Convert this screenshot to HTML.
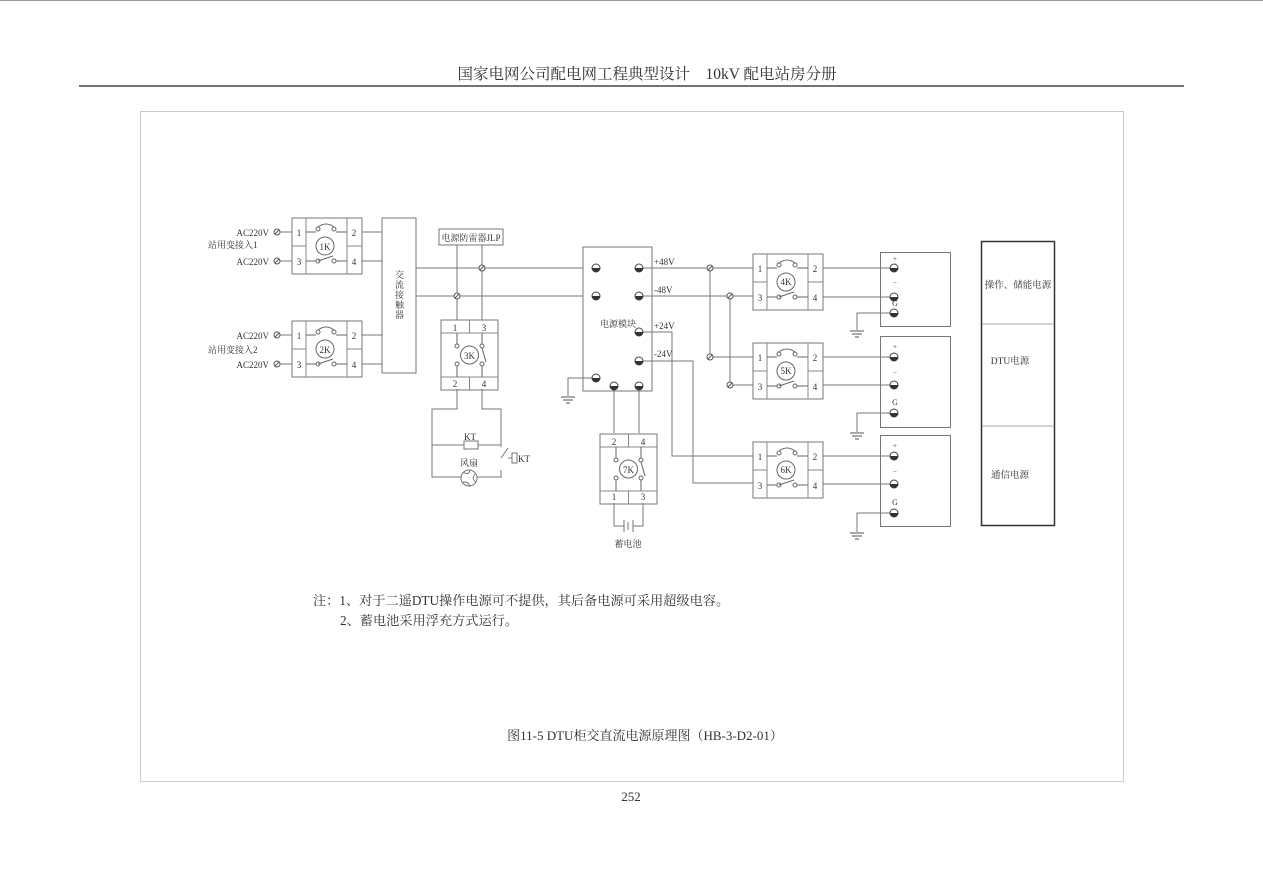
<!DOCTYPE html>
<html><head><meta charset="utf-8"><style>
html,body{margin:0;padding:0;background:#fff;}
svg{display:block;}
text{font-family:"Liberation Serif","Noto Serif CJK SC","Noto Sans CJK SC",serif;fill:#333;}
</style></head><body>
<svg width="1263" height="892" viewBox="0 0 1263 892" xmlns="http://www.w3.org/2000/svg">
<defs>
<g id="sw">
 <rect x="0" y="0" width="70" height="56" fill="none" stroke="#777" stroke-width="1"/>
 <line x1="14" y1="0" x2="14" y2="56" stroke="#888"/>
 <line x1="55" y1="0" x2="55" y2="56" stroke="#888"/>
 <line x1="0" y1="28" x2="14" y2="28" stroke="#888"/>
 <line x1="55" y1="28" x2="70" y2="28" stroke="#888"/>
 <text x="7" y="18" font-size="9" text-anchor="middle">1</text>
 <text x="7" y="47" font-size="9" text-anchor="middle">3</text>
 <text x="62" y="18" font-size="9" text-anchor="middle">2</text>
 <text x="62" y="47" font-size="9" text-anchor="middle">4</text>
 <path d="M14 14H24M44 14H55M14 43H24M44 43H55" stroke="#666" fill="none"/>
 <circle cx="26" cy="11" r="2" fill="none" stroke="#666"/><circle cx="42" cy="11" r="2" fill="none" stroke="#666"/>
 <path d="M26 9Q34 3 42 9" fill="none" stroke="#666"/>
 <circle cx="26" cy="43" r="2" fill="none" stroke="#666"/><circle cx="42" cy="43" r="2" fill="none" stroke="#666"/>
 <line x1="26" y1="43" x2="41" y2="38" stroke="#666"/>
 <circle cx="33" cy="28" r="9" fill="#fff" stroke="#666"/>
</g>
<g id="vs">
 <rect x="0" y="0" width="57" height="70" fill="none" stroke="#777"/>
 <line x1="0" y1="13" x2="57" y2="13" stroke="#888"/>
 <line x1="0" y1="57" x2="57" y2="57" stroke="#888"/>
 <line x1="28.5" y1="0" x2="28.5" y2="13" stroke="#888"/>
 <line x1="28.5" y1="57" x2="28.5" y2="70" stroke="#888"/>
 <circle cx="16" cy="26" r="2" fill="none" stroke="#666"/><circle cx="16" cy="44" r="2" fill="none" stroke="#666"/>
 <circle cx="41" cy="26" r="2" fill="none" stroke="#666"/><circle cx="41" cy="44" r="2" fill="none" stroke="#666"/>
 <line x1="16" y1="13" x2="16" y2="24" stroke="#666"/><line x1="16" y1="46" x2="16" y2="57" stroke="#666"/>
 <line x1="41" y1="13" x2="41" y2="24" stroke="#666"/><line x1="41" y1="46" x2="41" y2="57" stroke="#666"/>
 <line x1="41" y1="28" x2="45" y2="42" stroke="#666"/>
 <circle cx="28.5" cy="35" r="9" fill="#fff" stroke="#666"/>
</g>
<g id="tm"><circle r="4" fill="#fff" stroke="#444"/><path d="M-4 0A4 4 0 0 0 4 0Z" fill="#333"/></g>
<g id="gnd"><path d="M-7 0H7M-5 3H5M-2 6H2" stroke="#555"/></g>
<g id="cs"><circle r="3" fill="#fff" stroke="#555"/><line x1="-2" y1="2" x2="2" y2="-2" stroke="#555"/></g>
</defs>

<line x1="0" y1="0.5" x2="1263" y2="0.5" stroke="#999"/>
<text x="647" y="79" font-size="15.5" text-anchor="middle" fill="#222">国家电网公司配电网工程典型设计　10kV 配电站房分册</text>
<line x1="79" y1="86" x2="1184" y2="86" stroke="#222" stroke-width="1.2"/>
<rect x="140.5" y="111.5" width="983" height="670" fill="none" stroke="#ccc"/>

<g stroke="#777" fill="none" stroke-width="1">
 <path d="M280 232H292M280 261H292M280 335H292M280 364H292"/>
 <path d="M362 232H382M362 261H382M362 335H382M362 364H382"/>
 <rect x="382" y="218" width="34" height="155"/>
 <path d="M416 268H583M416 296H583"/>
 <rect x="439" y="229" width="64" height="16"/>
 <path d="M457 245V320M482 245V320"/>
 <path d="M457 389V409H432V477H461M482 389V409H501V447M432 445H464M478 445H501M501 470V477H477"/>
 <line x1="501" y1="458" x2="508" y2="448"/>
 <path d="M508 458H512"/><rect x="512" y="453" width="5" height="10"/>
 <rect x="464" y="441" width="14" height="8"/>
 <circle cx="469" cy="478" r="8"/>
 <rect x="583" y="247" width="69" height="144"/>
 <path d="M596 378H568V396M639 268H753M639 296H753M710 268V357H753M730 296V385H753"/>
 <path d="M639 332H672V456H753M639 361H693V483H753"/>
 <path d="M614 386V433M639 386V433"/>
 <path d="M614 503V526H624M643 503V526H633M624 520V532M628 522V530M633 520V532"/>
 <path d="M823 268H894M823 297H894M823 357H894M823 385H894M823 456H894M823 484H894"/>
 <path d="M894 313H857V330M894 413H857V432M894 513H857V532"/>
 <rect x="880.5" y="252.5" width="70" height="74"/>
 <rect x="880.5" y="336.5" width="70" height="91"/>
 <rect x="880.5" y="435.5" width="70" height="91"/>
</g>
<path d="M463 472Q469 476 470 470M475 474Q471 479 476 482M470 486Q467 480 462 483" stroke="#777" fill="none"/>
<use href="#gnd" x="568" y="397"/><use href="#gnd" x="857" y="331"/><use href="#gnd" x="857" y="433"/><use href="#gnd" x="857" y="533"/>

<rect x="981.5" y="241.5" width="73" height="284" fill="none" stroke="#333" stroke-width="1.5"/>
<path d="M982 324H1054M982 426H1054" stroke="#aaa"/>
<text x="1018" y="288" font-size="9.5" text-anchor="middle">操作、储能电源</text>
<text x="1010" y="364" font-size="9.5" text-anchor="middle">DTU电源</text>
<text x="1010" y="478" font-size="9.5" text-anchor="middle">通信电源</text>

<use href="#sw" x="292" y="218"/><use href="#sw" x="292" y="321"/>
<use href="#sw" x="753" y="254"/><use href="#sw" x="753" y="343"/><use href="#sw" x="753" y="442"/>
<use href="#vs" x="441" y="320"/><use href="#vs" x="600" y="434"/>

<use href="#cs" x="277" y="232"/><use href="#cs" x="277" y="261"/><use href="#cs" x="277" y="335"/><use href="#cs" x="277" y="364"/>
<use href="#cs" x="482" y="268"/><use href="#cs" x="457" y="296"/>
<use href="#cs" x="710" y="268"/><use href="#cs" x="730" y="296"/><use href="#cs" x="710" y="357"/><use href="#cs" x="730" y="385"/>

<use href="#tm" x="596" y="268"/><use href="#tm" x="639" y="268"/><use href="#tm" x="596" y="296"/><use href="#tm" x="639" y="296"/>
<use href="#tm" x="639" y="332"/><use href="#tm" x="639" y="361"/><use href="#tm" x="596" y="378"/><use href="#tm" x="614" y="386"/><use href="#tm" x="639" y="386"/>
<use href="#tm" x="894" y="268"/><use href="#tm" x="894" y="297"/><use href="#tm" x="894" y="313"/>
<use href="#tm" x="894" y="357"/><use href="#tm" x="894" y="385"/><use href="#tm" x="894" y="413"/>
<use href="#tm" x="894" y="456"/><use href="#tm" x="894" y="484"/><use href="#tm" x="894" y="513"/>

<g font-size="9">
<text x="269" y="236" text-anchor="end">AC220V</text>
<text x="208" y="248">站用变接入1</text>
<text x="269" y="265" text-anchor="end">AC220V</text>
<text x="269" y="339" text-anchor="end">AC220V</text>
<text x="208" y="353">站用变接入2</text>
<text x="269" y="368" text-anchor="end">AC220V</text>
<text x="325" y="250" text-anchor="middle">1K</text>
<text x="325" y="353" text-anchor="middle">2K</text>
<text x="786" y="285" text-anchor="middle">4K</text>
<text x="786" y="374" text-anchor="middle">5K</text>
<text x="786" y="473" text-anchor="middle">6K</text>
<text x="469.5" y="359" text-anchor="middle">3K</text>
<text x="628.5" y="473" text-anchor="middle">7K</text>
<text x="455" y="331" text-anchor="middle">1</text><text x="484" y="331" text-anchor="middle">3</text>
<text x="455" y="387" text-anchor="middle">2</text><text x="484" y="387" text-anchor="middle">4</text>
<text x="614" y="445" text-anchor="middle">2</text><text x="643" y="445" text-anchor="middle">4</text>
<text x="614" y="500" text-anchor="middle">1</text><text x="643" y="500" text-anchor="middle">3</text>
<text x="470" y="440" text-anchor="middle">KT</text>
<text x="469" y="466" text-anchor="middle">风扇</text>
<text x="518" y="462">KT</text>
<text x="471" y="241" text-anchor="middle">电源防雷器JLP</text>
<text x="618" y="327" text-anchor="middle">电源模块</text>
<text x="654" y="265">+48V</text><text x="654" y="293">-48V</text>
<text x="654" y="329">+24V</text><text x="654" y="357">-24V</text>
<text x="628" y="547" text-anchor="middle">蓄电池</text>
<text x="895" y="261" text-anchor="middle" font-size="7">+</text>
<text x="895" y="285" text-anchor="middle" font-size="7">−</text>
<text x="895" y="306" text-anchor="middle" font-size="8">G</text>
<text x="895" y="349" text-anchor="middle" font-size="7">+</text>
<text x="895" y="375" text-anchor="middle" font-size="7">−</text>
<text x="895" y="405" text-anchor="middle" font-size="8">G</text>
<text x="895" y="448" text-anchor="middle" font-size="7">+</text>
<text x="895" y="474" text-anchor="middle" font-size="7">−</text>
<text x="895" y="505" text-anchor="middle" font-size="8">G</text>
</g>
<text x="399" y="295" font-size="9" text-anchor="middle" writing-mode="tb" letter-spacing="1">交流接触器</text>

<text x="313" y="605" font-size="13.2">注：1、对于二遥DTU操作电源可不提供，其后备电源可采用超级电容。</text>
<text x="340" y="625" font-size="13.2">2、蓄电池采用浮充方式运行。</text>
<text x="645" y="740" font-size="13" text-anchor="middle">图11-5 DTU柜交直流电源原理图（HB-3-D2-01）</text>
<text x="631" y="801" font-size="13" text-anchor="middle">252</text>
</svg>
</body></html>
